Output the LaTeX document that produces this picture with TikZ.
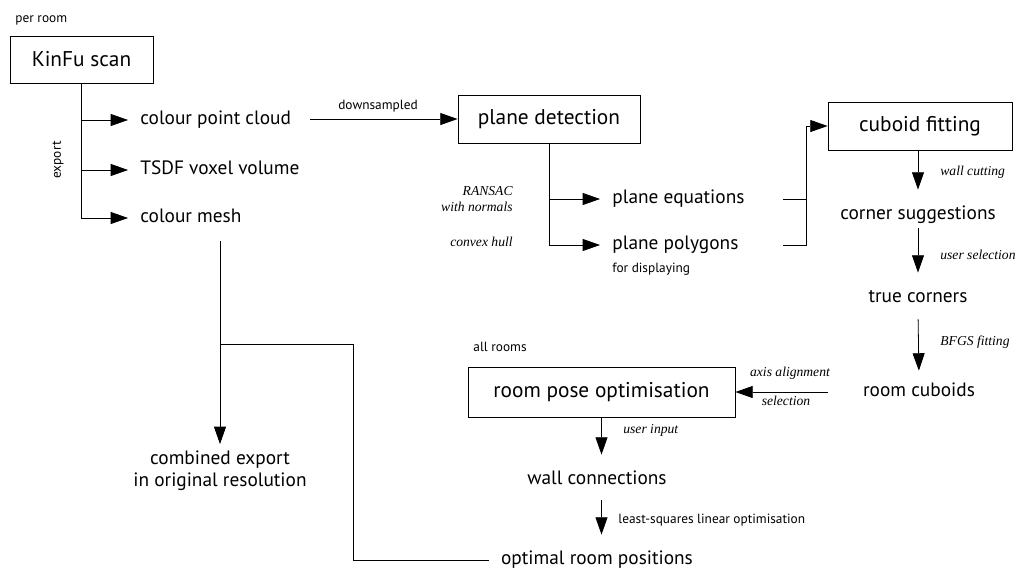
\documentclass[tikz,border=0pt]{standalone}
\usepackage{fontspec}
\setmainfont{PT Sans}
\newfontfamily\labfont{Liberation Serif}
\usetikzlibrary{arrows.meta,calc}
\begin{document}
\begin{tikzpicture}[x=0.75pt,y=-0.75pt, line width=0.6pt,
  arr/.style={-{Triangle[length=13pt,width=9pt]}},
  box/.style={draw,inner sep=0pt,font=\fontsize{16}{19}\selectfont},
  txt/.style={inner xsep=9pt,inner ysep=3.5pt,text height=9.5pt,text depth=3pt,font=\fontsize{14.5}{17}\selectfont},
  small/.style={inner sep=0pt,font=\fontsize{10}{12}\selectfont},
  lab/.style={inner sep=0pt,font=\labfont\itshape\fontsize{10.2}{11.5}\selectfont}]
\useasboundingbox (0,0) rectangle (1018,572);

% per room scan
\node[small,anchor=west] (perroom) at (15,20) {per room};
\node[box,minimum width=107.25pt,minimum height=35.25pt] (kinfu) at (81.5,59.5) {KinFu scan};
\node[txt,anchor=west] (pcl) at (128,120) {colour point cloud};
\node[txt,anchor=west] (tsdf) at (128,170) {TSDF voxel volume};
\node[txt,anchor=west] (mesh) at (128,218) {colour mesh};
\node[small,rotate=90] (export) at (58,160) {export};

\draw[arr] (kinfu.south) |- (mesh.west);
\draw[arr] (kinfu.south |- pcl.west) -- (pcl.west);
\draw[arr] (kinfu.south |- tsdf.west) -- (tsdf.west);

% plane detection
\node[box,minimum width=136.5pt,minimum height=36pt] (plane) at (549,119) {plane detection};
\coordinate (pclout) at (310,119);
\draw[arr] (pclout) -- (plane.west);
\node[small] (down) at (378,106) {downsampled};

\node[txt,anchor=west] (peq) at (600,199) {plane equations};
\node[txt,anchor=west] (ppoly) at (600,245) {plane polygons};
\node[small,anchor=west] (disp) at (612,269) {for displaying};
\node[lab,anchor=east,align=right] (ransac) at (513,199) {RANSAC\\with normals};
\node[lab,anchor=east] (hull) at (513,242) {convex hull};
\draw[arr] (plane.south) |- (ppoly.west);
\draw[arr] (plane.south |- peq.west) -- (peq.west);

% cuboid fitting
\node[box,minimum width=138pt,minimum height=36pt] (cuboid) at (920,126) {cuboid fitting};
\coordinate (j) at (806,126);
\coordinate (eqout) at (783,199);
\coordinate (polyout) at (783,245);
\draw (eqout) -- (eqout -| j);
\draw[arr] (polyout) -| (j) -- (cuboid.west);

\node[txt] (sugg) at (918,215) {corner suggestions};
\node[txt] (true) at (918,298) {true corners};
\node[txt] (cuboids) at (919,392) {room cuboids};
\draw[arr,shorten >=9pt] (cuboid.south -| sugg) -- (sugg.north);
\draw[arr,shorten >=9pt] (sugg.south) -- (true.north);
\draw[arr,shorten <=6pt,shorten >=6pt] (true.south) -- (cuboids.north);
\node[lab,anchor=west] (wallcut) at (940,172) {wall cutting};
\node[lab,anchor=west] (usersel) at (940,255) {user selection};
\node[lab,anchor=west] (bfgs) at (940,342) {BFGS fitting};

% room pose optimisation
\node[small,anchor=west] (allrooms) at (473,347) {all rooms};
\node[box,minimum width=200.25pt,minimum height=37.5pt] (room) at (601.5,392) {room pose optimisation};
\coordinate (cubout) at (828,392);
\draw[arr] (cubout) -- (room.east);
\node[lab] (axis) at (790,373) {axis alignment};
\node[lab] (selection) at (786,401) {selection};

\node[txt] (wall) at (597,480) {wall connections};
\node[txt] (opt) at (597,560) {optimal room positions};
\draw[arr,shorten >=9pt] (room.south) -- (room.south |- wall.north);
\draw[arr,shorten <=5pt,shorten >=9pt] (room.south |- wall.south) -- (room.south |- opt.north);
\node[lab,anchor=west] (userin) at (623,430) {user input};
\node[small,anchor=west] (lsq) at (618,520) {least-squares linear optimisation};

% combined export
\node[inner xsep=0pt,inner ysep=5pt,align=center,font=\fontsize{14.5}{16.5}\selectfont] (comb) at (220,471) {combined export\\in original resolution};
\coordinate (m1) at (220,241);
\coordinate (b1) at (220,344);
\coordinate (b2) at (353,560);
\draw[arr] (m1) -- (comb.north);
\draw (b1) -| (b2) -- (opt.west);
\end{tikzpicture}
\end{document}
